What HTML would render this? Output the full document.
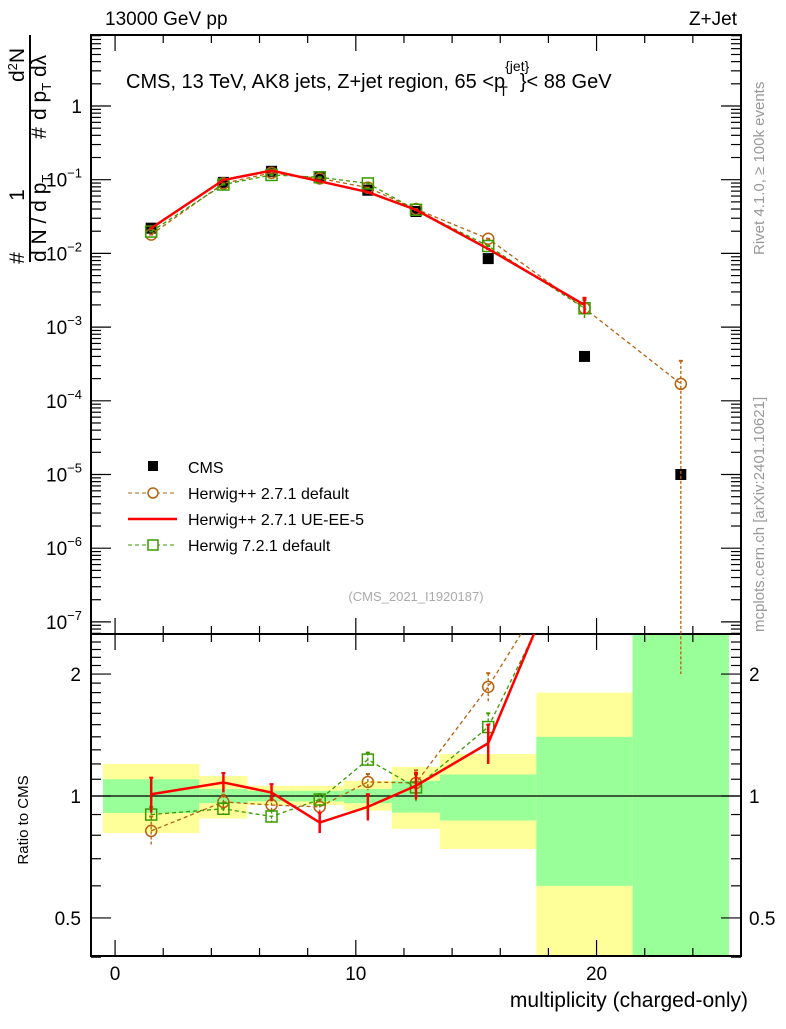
<!DOCTYPE html>
<html><head><meta charset="utf-8"><style>
body{margin:0;background:#fff;}
svg text{font-family:"Liberation Sans",sans-serif;}
</style></head><body>
<svg id="c" width="786" height="1024" viewBox="0 0 786 1024" xmlns="http://www.w3.org/2000/svg">
<text x="105" y="25" font-size="19">13000 GeV pp</text>
<text x="737" y="25" font-size="19" text-anchor="end">Z+Jet</text>
<text x="126" y="88" font-size="20">CMS, 13 TeV, AK8 jets, Z+jet region, 65 &lt;p<tspan font-size="14" dy="-17">{jet}</tspan><tspan font-size="14" dx="-30" dy="25">T</tspan><tspan dx="12" dy="-8">}&lt; 88 GeV</tspan></text>
<text transform="translate(764,255) rotate(-90)" font-size="15" fill="#999">Rivet 4.1.0, ≥ 100k events</text>
<text transform="translate(764,632) rotate(-90)" font-size="15" fill="#999">mcplots.cern.ch [arXiv:2401.10621]</text>
<g font-size="21">
<text transform="translate(24,258) rotate(-90)" text-anchor="middle">#</text>
<text transform="translate(24,195) rotate(-90)" text-anchor="middle">1</text>
<text transform="translate(24,82) rotate(-90)">d<tspan font-size="13" dy="-7">2</tspan><tspan dy="7">N</tspan></text>
<line x1="30" y1="262" x2="30" y2="35" stroke="#000" stroke-width="2"/>
<text transform="translate(46,262) rotate(-90)">d N / d p<tspan font-size="13" dy="5">T</tspan></text>
<text transform="translate(46,133) rotate(-90)" text-anchor="middle">#</text>
<text transform="translate(46,120) rotate(-90)">d p<tspan font-size="13" dy="5">T</tspan><tspan dy="-5"> dλ</tspan></text>
</g>
<text x="28" y="820" transform="rotate(-90,28,820)" font-size="15" text-anchor="middle">Ratio to CMS</text>
<text x="748" y="1007" font-size="21" text-anchor="end">multiplicity (charged-only)</text>
<text x="416" y="601" font-size="13" fill="#aaa" text-anchor="middle">(CMS_2021_I1920187)</text>
<g id="bands"></g><g id="axes"></g><g id="series"></g>
<g font-size="16">
<g><rect x="148" y="461" width="10" height="10" fill="#000"/><text x="188" y="473">CMS</text></g>
<g><line x1="128" y1="493" x2="177" y2="493" stroke="#b8600e" stroke-dasharray="4,3"/><circle cx="153" cy="493" r="5" fill="#fff" stroke="#b8600e" stroke-width="1.5"/><text x="188" y="499">Herwig++ 2.7.1 default</text></g>
<g><line x1="128" y1="519" x2="177" y2="519" stroke="#f00" stroke-width="2.5"/><text x="188" y="525">Herwig++ 2.7.1 UE-EE-5</text></g>
<g><line x1="128" y1="545" x2="177" y2="545" stroke="#3a9a00" stroke-dasharray="4,3"/><rect x="148" y="540" width="10" height="10" fill="#fff" stroke="#3a9a00" stroke-width="1.5"/><text x="188" y="551">Herwig 7.2.1 default</text></g>
</g>
</svg>
<script>
const xs=[1.5,4.5,6.5,8.5,10.5,12.5,15.5,19.5,23.5];
const binLo=[-0.5,3.5,5.5,7.5,9.5,11.5,13.5,17.5,21.5];
const binHi=[3.5,5.5,7.5,9.5,11.5,13.5,17.5,21.5,25.5];
const cmsVals=[0.022,0.092,0.13,0.11,0.072,0.037,0.0085,0.0004,0.00001];
const hppVals=[0.018,0.089,0.124,0.104,0.078,0.04,0.0158,0.0018,0.00017];
const ueVals=[0.022,0.099,0.133,0.095,0.068,0.039,0.0115,0.002];
const h7Vals=[0.0198,0.086,0.116,0.108,0.089,0.039,0.0126,0.0018];
const hppRatio=[0.82,0.967,0.95,0.94,1.083,1.077,1.86,4.5,17];
const hppRatioErr=[0.07,0.04,0.04,0.04,0.05,0.08,0.15,1,15];
const ueRatio=[1.01,1.08,1.02,0.86,0.94,1.06,1.35,5];
const ueRatioErr=[0.1,0.06,0.05,0.05,0.07,0.08,0.15,1];
const h7Ratio=[0.9,0.93,0.89,0.98,1.23,1.05,1.48,4.5];
const h7RatioErr=[0.04,0.03,0.03,0.03,0.05,0.08,0.12,1];
const greenHi=[1.1,1.04,1.03,1.03,1.04,1.09,1.13,1.4,3];
const greenLo=[0.908,0.96,0.97,0.97,0.96,0.91,0.87,0.6,0.3];
const yellowHi=[1.2,1.12,1.06,1.06,1.09,1.18,1.27,1.8,3];
const yellowLo=[0.81,0.88,0.95,0.95,0.92,0.83,0.74,0.3,0.3];
const xTicks=[0,10,20];
const ratioTicks=[0.5,1,2];
const NS='http://www.w3.org/2000/svg';
const L=91,R=741,T=35,MB=634,RB=956;
const X=v=>L+(v+1)/27*(R-L);
const Y=v=>106-Math.log10(v)*73.7;
const YR=v=>796-Math.log10(v)*405;
function mk(tag,attrs,parent){const e=document.createElementNS(NS,tag);for(const k in attrs)e.setAttribute(k,attrs[k]);parent.appendChild(e);return e;}
const bands=document.getElementById('bands'),axes=document.getElementById('axes'),ser=document.getElementById('series');
const defs=mk('defs',{},document.getElementById('c'));
const cp1=mk('clipPath',{id:'cm'},defs);mk('rect',{x:L,y:T,width:R-L,height:MB-T},cp1);
const cp2=mk('clipPath',{id:'cr'},defs);mk('rect',{x:L,y:MB,width:R-L,height:RB-MB},cp2);
bands.setAttribute('clip-path','url(#cr)');
for(let i=0;i<binLo.length;i++){
 const y=mk('rect',{x:X(binLo[i]),y:YR(yellowHi[i]),width:X(binHi[i])-X(binLo[i]),height:YR(yellowLo[i])-YR(yellowHi[i]),fill:'#ffff99'},bands);
 
 
 const g=mk('rect',{x:X(binLo[i]),y:YR(greenHi[i]),width:X(binHi[i])-X(binLo[i]),height:YR(greenLo[i])-YR(greenHi[i]),fill:'#99ff99'},bands);
 
 
}
mk('line',{x1:L,y1:YR(1),x2:R,y2:YR(1),stroke:'#000','stroke-width':1.2},bands);
mk('rect',{x:L,y:T,width:R-L,height:MB-T,fill:'none',stroke:'#000','stroke-width':2},axes);
mk('rect',{x:L,y:MB,width:R-L,height:RB-MB,fill:'none',stroke:'#000','stroke-width':2},axes);
for(let v=0;v<=26;v+=2){const maj=v%10==0;const l=maj?16:8;
 for(const [yb,d] of [[T,1],[MB,-1],[MB,1],[RB,-1]]) mk('line',{x1:X(v),y1:yb,x2:X(v),y2:yb+d*l,stroke:'#000','stroke-width':1.2},axes);}
xTicks.forEach(v=>{const t=mk('text',{x:X(v),y:980,'font-size':19,'text-anchor':'middle'},axes);t.textContent=v;
 
 });
for(let e=-8;e<=1;e++){for(let m=1;m<10;m++){const v=m*Math.pow(10,e);const y=Y(v);if(y<T||y>MB)continue;const l=m==1?20:10;
 mk('line',{x1:L,y1:y,x2:L+l,y2:y,stroke:'#000','stroke-width':1.2},axes);mk('line',{x1:R,y1:y,x2:R-l,y2:y,stroke:'#000','stroke-width':1.2},axes);}
 const y=Y(Math.pow(10,e));if(y<T||y>MB)continue;
 const t=mk('text',{x:L-9,y:y+7,'font-size':19,'text-anchor':'end'},axes);
 
 
 if(e==0)t.textContent='1';else{t.textContent='10';const s=mk('tspan',{dy:-9,'font-size':13},t);s.textContent='−'+(-e);}
}
for(let v=0.4;v<=2.5;v+=0.1){const y=YR(v);const maj=Math.abs(v-0.5)<1e-6||Math.abs(v-1)<1e-6||Math.abs(v-2)<1e-6;const l=maj?20:10;
 mk('line',{x1:L,y1:y,x2:L+l,y2:y,stroke:'#000','stroke-width':1.2},axes);mk('line',{x1:R,y1:y,x2:R-l,y2:y,stroke:'#000','stroke-width':1.2},axes);}
ratioTicks.forEach(v=>{for(const [x,a] of [[L-10,'end'],[R+8,'start']]){const t=mk('text',{x:x,y:YR(v)+7,'font-size':19,'text-anchor':a},axes);t.textContent=v;
 
 }});
function series(vals,errs,yf,clip,color,dash,width,marker,name){
 const g=mk('g',{'clip-path':clip},ser);
 
 
 const pts=vals.map((v,i)=>X(xs[i])+','+yf(v)).join(' ');
 const pl=mk('polyline',{points:pts,fill:'none',stroke:color,'stroke-width':width},g);if(dash)pl.setAttribute('stroke-dasharray',dash);
 vals.forEach((v,i)=>{const x=X(xs[i]),y=yf(v);
  if(errs){const e=errs[i];const lo=Math.max(v-e,1e-9);const el=mk('line',{x1:x,y1:yf(v+e),x2:x,y2:yf(lo),stroke:color,'stroke-width':width},g);if(dash)el.setAttribute('stroke-dasharray','3,2');
   mk('line',{x1:x-2,y1:yf(v+e),x2:x+2,y2:yf(v+e),stroke:color,'stroke-width':2},g);}
  let m;
  if(marker=='circle')m=mk('circle',{cx:x,cy:y,r:5.5,fill:'none',stroke:color,'stroke-width':1.5},g);
  else if(marker=='square')m=mk('rect',{x:x-5.5,y:y-5.5,width:11,height:11,fill:'none',stroke:color,'stroke-width':1.5},g);
  if(m){
   }
 });
}
const cg=mk('g',{'clip-path':'url(#cm)'},ser);


cmsVals.forEach((v,i)=>{const r=mk('rect',{x:X(xs[i])-5.5,y:Y(v)-5.5,width:11,height:11,fill:'#000'},cg);
 
 });
const hppMainErr=hppVals.map((v,i)=>i==7?v*0.3:(i==8?v*1.05:0));
series(hppVals,hppMainErr,Y,'url(#cm)','#b8600e','4,3',1.3,'circle','herwigpp-default-main');
series(h7Vals,h7Vals.map((v,i)=>i==7?v*0.3:0),Y,'url(#cm)','#3a9a00','4,3',1.3,'square','herwig7-default-main');
series(ueVals,ueVals.map((v,i)=>i==7?v*0.25:0),Y,'url(#cm)','#f00',null,2.5,null,'herwigpp-ueee5-main');
series(hppRatio,hppRatioErr,YR,'url(#cr)','#b8600e','4,3',1.3,'circle','herwigpp-default-ratio');
series(h7Ratio,h7RatioErr,YR,'url(#cr)','#3a9a00','4,3',1.3,'square','herwig7-default-ratio');
series(ueRatio,ueRatioErr,YR,'url(#cr)','#f00',null,2.5,null,'herwigpp-ueee5-ratio');
</script>
</body></html>
